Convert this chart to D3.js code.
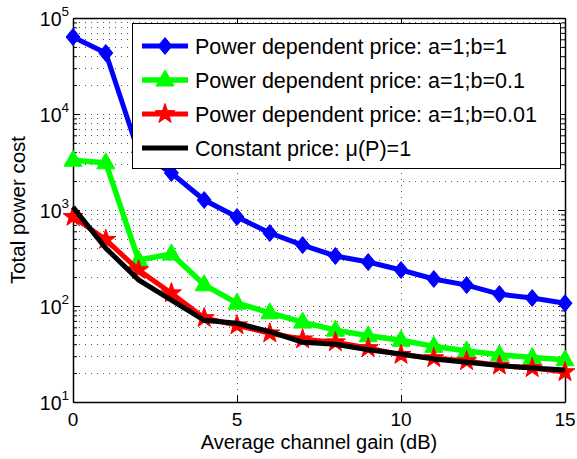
<!DOCTYPE html>
<html><head><meta charset="utf-8">
<script src="https://cdn.jsdelivr.net/npm/d3@7"></script>
<style>body{margin:0;background:#fff}svg{display:block}text{font-family:"Liberation Sans",Arial,sans-serif;fill:#000}</style>
</head><body><svg id="c" width="577" height="459"></svg>
<script>
const gains = [0,1,2,3,4,5,6,7,8,9,10,11,12,13,14,15];
const priceB1 = [63400,43200,4000,2430,1270,845,575,431,332,287,237,191,165,133,121,107];
const priceB01 = [3300,3100,301,348,166,107,85,68,56,49,44,38,34,31,29,27.5];
const priceB001 = [850,490,237,136,75,63,52,45,42,36.5,31,28.7,26.7,24,22.6,20.5];
const constPrice = [1070,400,187,115,71,66,54,42,40,35,31.6,28,26,24,22.6,21.5];
const seriesNames = ["Power dependent price: a=1;b=1","Power dependent price: a=1;b=0.1","Power dependent price: a=1;b=0.01","Constant price: \u03bc(P)=1"];
const xTicks = [0,5,10,15];
const yExps = [1,2,3,4,5];
const xLabel = "Average channel gain (dB)";
const yLabel = "Total power cost";

const svg = d3.select("#c");
const L=73,R=565,T=18,B=402;
const x = d3.scaleLinear().domain([0,15]).range([L,R]);
const y = d3.scaleLog().domain([10,1e5]).range([B,T]);

// grid
const minorVals=[];
for(let e=1;e<5;e++){for(let m=1;m<10;m++){const v=m*Math.pow(10,e); if(v>10&&v<1e5) minorVals.push(v);}}
const grid=svg.append("g").attr("stroke","#555").attr("stroke-width",1).attr("stroke-dasharray","1,5");
grid.selectAll("line.h").data(minorVals).join("line").attr("x1",L).attr("x2",R)
  .attr("y1",d=>Math.round(y(d))+0.5).attr("y2",d=>Math.round(y(d))+0.5);
grid.selectAll("line.v").data([5,10]).join("line").attr("y1",B).attr("y2",T)
  .attr("x1",d=>Math.round(x(d))+0.5).attr("x2",d=>Math.round(x(d))+0.5);

// axes with inside ticks
const majorY=yExps.map(e=>Math.pow(10,e));
function yax(g,side){
  const ax=(side==="left"?d3.axisLeft(y):d3.axisRight(y)).tickValues(majorY).tickFormat("").tickSizeOuter(0).tickSizeInner(-7);
  g.call(ax);
  const ax2=(side==="left"?d3.axisLeft(y):d3.axisRight(y)).tickValues(minorVals).tickFormat("").tickSizeOuter(0).tickSizeInner(-4);
  g.append("g").call(ax2).select(".domain").remove();
}
const gl=svg.append("g").attr("transform",`translate(${L},0)`); yax(gl,"left");
const gr=svg.append("g").attr("transform",`translate(${R},0)`); yax(gr,"right");
svg.append("g").attr("transform",`translate(0,${B})`).call(d3.axisBottom(x).tickValues(xTicks).tickFormat("").tickSizeInner(-7).tickSizeOuter(0));
svg.append("g").attr("transform",`translate(0,${T})`).call(d3.axisTop(x).tickValues(xTicks).tickFormat("").tickSizeInner(-7).tickSizeOuter(0));
svg.selectAll(".domain").attr("stroke","#000").attr("stroke-width",1.5);
svg.selectAll(".tick line").attr("stroke","#000");

// tick labels
svg.append("g").selectAll("text").data(xTicks).join("text")
  .attr("x",d=>x(d)).attr("y",426).attr("text-anchor","middle").attr("font-size",19).text(d=>d);
const yl=svg.append("g").selectAll("text").data(yExps).join("text")
  .attr("x",69).attr("y",d=>y(Math.pow(10,d))+8).attr("text-anchor","end").attr("font-size",19.5);
yl.append("tspan").text("10");
yl.append("tspan").attr("dy",-10).attr("font-size",13.5).text(d=>d);

// axis labels
svg.append("text").attr("x",(L+R)/2).attr("y",449).attr("text-anchor","middle").attr("font-size",20).text(xLabel);
svg.append("text").attr("transform",`translate(25,${(T+B)/2}) rotate(-90)`).attr("text-anchor","middle").attr("font-size",20.5).text(yLabel);

// markers
function diamond(s){ s.attr("d","M0,-8.5L7,0L0,8.5L-7,0Z"); }
function tri(s){ s.attr("d","M0,-10L9,6L-9,6Z"); }
function star(s){ const p=[]; for(let i=0;i<10;i++){const r=i%2?4.2:10.5; const a=-Math.PI/2+i*Math.PI/5; p.push([r*Math.cos(a),r*Math.sin(a)]);} s.attr("d","M"+p.map(q=>q.join(",")).join("L")+"Z"); }

const series=[
  {v:priceB1,c:"#0000ff",m:diamond,w:5},
  {v:priceB01,c:"#00ff00",m:tri,w:5.5},
  {v:priceB001,c:"#ff0000",m:star,w:5},
  {v:constPrice,c:"#000000",m:null,w:5}
];
const line=d3.line().x((d,i)=>x(gains[i])).y(d=>y(d));
const plot=svg.append("g");
series.forEach(s=>{
  plot.append("path").datum(s.v).attr("d",line).attr("fill","none").attr("stroke",s.c).attr("stroke-width",s.w).attr("stroke-linejoin","miter");
  if(s.m){
    plot.append("g").selectAll("path").data(s.v).join("path")
      .attr("transform",(d,i)=>`translate(${x(gains[i])},${y(d)})`).call(s.m).attr("fill",s.c).attr("stroke",s.c).attr("stroke-width",1);
  }
});

// legend
const lg=svg.append("g");
lg.append("rect").attr("x",132.5).attr("y",23.5).attr("width",428).attr("height",145).attr("fill","#fff").attr("stroke","#000").attr("stroke-width",1);
const rowY=[46,80,114,148];
series.forEach((s,i)=>{
  lg.append("line").attr("x1",142).attr("x2",188).attr("y1",rowY[i]).attr("y2",rowY[i]).attr("stroke",s.c).attr("stroke-width",s.w);
  if(s.m) lg.append("path").attr("transform",`translate(165,${rowY[i]})`).call(s.m).attr("fill",s.c).attr("stroke",s.c);
  lg.append("text").attr("x",195).attr("y",rowY[i]+7.5).attr("font-size",21.5).text(seriesNames[i]);
});
</script></body></html>
